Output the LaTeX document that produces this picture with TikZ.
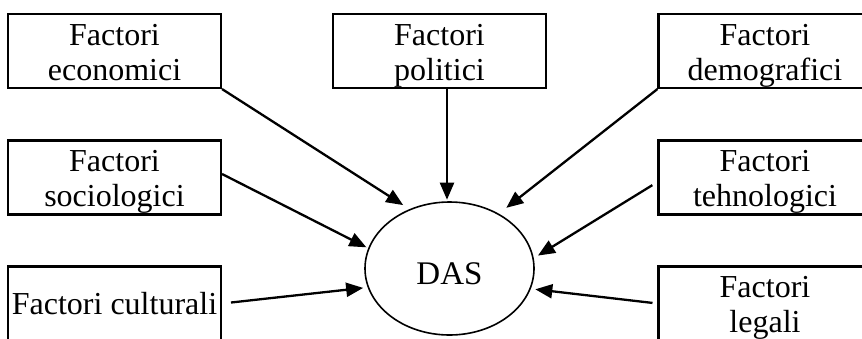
\documentclass[tikz,border=0pt]{standalone}
\usepackage{fontspec}
\setmainfont{Liberation Serif}
\usetikzlibrary{arrows.meta,shapes.geometric}
\begin{document}
\begin{tikzpicture}[x=1pt,y=-1pt,
  factorbox/.style={draw,line width=2.1pt,minimum width=213pt,minimum height=74pt,inner sep=0pt},
  boxtext/.style={font=\fontsize{32}{35}\selectfont,align=center,inner sep=0pt,anchor=north},
  link/.style={line width=2.3pt,-{Triangle[length=17pt,width=14pt]}},
]
\useasboundingbox (0,0) rectangle (862,338);

% factor boxes
\node[factorbox] (eco) at (114.5,51) {};
\node[factorbox] (pol) at (439.5,51) {};
\node[factorbox] (dem) at (765,51) {};
\node[factorbox] (soc) at (114.5,177.5) {};
\node[factorbox] (teh) at (765,177.5) {};
\node[factorbox] (cul) at (114.5,303.5) {};
\node[factorbox] (leg) at (765,303.5) {};

% box labels
\node[boxtext] (ecot) at ([yshift=-11pt]eco.north) {Factori\\economici};
\node[boxtext] (polt) at ([yshift=-11pt]pol.north) {Factori\\politici};
\node[boxtext] (demt) at ([yshift=-11pt]dem.north) {Factori\\demografici};
\node[boxtext] (soct) at ([yshift=-11pt]soc.north) {Factori\\sociologici};
\node[boxtext] (teht) at ([yshift=-11pt]teh.north) {Factori\\tehnologici};
\node[boxtext,anchor=center] (cult) at (cul.center) {Factori culturali};
\node[boxtext] (legt) at ([yshift=-11pt]leg.north) {Factori\\legali};

% central ellipse
\node[draw,ellipse,line width=1.6pt,minimum width=169pt,minimum height=133pt,inner sep=0pt,
      font=\fontsize{33}{35}\selectfont,text height=31pt,text depth=0pt] (das) at (449.5,268.5) {DAS};

% connectors
\draw[link,shorten >=7.4pt] (eco.south east) -- (das.124.6);
\draw[link,shorten >=1.5pt] ([xshift=7.5pt]pol.south) -- ([xshift=7.5pt]pol.south |- das.north);
\draw[link,shorten >=9.4pt] (dem.south west) -- (das.48.7);
\draw[link,shorten >=2pt] ([yshift=3.5pt]soc.east) -- (das.166.3);
\draw[link,shorten <=6pt,shorten >=4.9pt] ([yshift=-4.5pt]teh.west) -- (das.7.4);
\draw[link,shorten <=9pt,shorten >=4.5pt] (cul.east) -- (das.193.2);
\draw[link,shorten <=5pt,shorten >=4.5pt] (leg.west) -- (das.346.8);
\end{tikzpicture}
\end{document}
